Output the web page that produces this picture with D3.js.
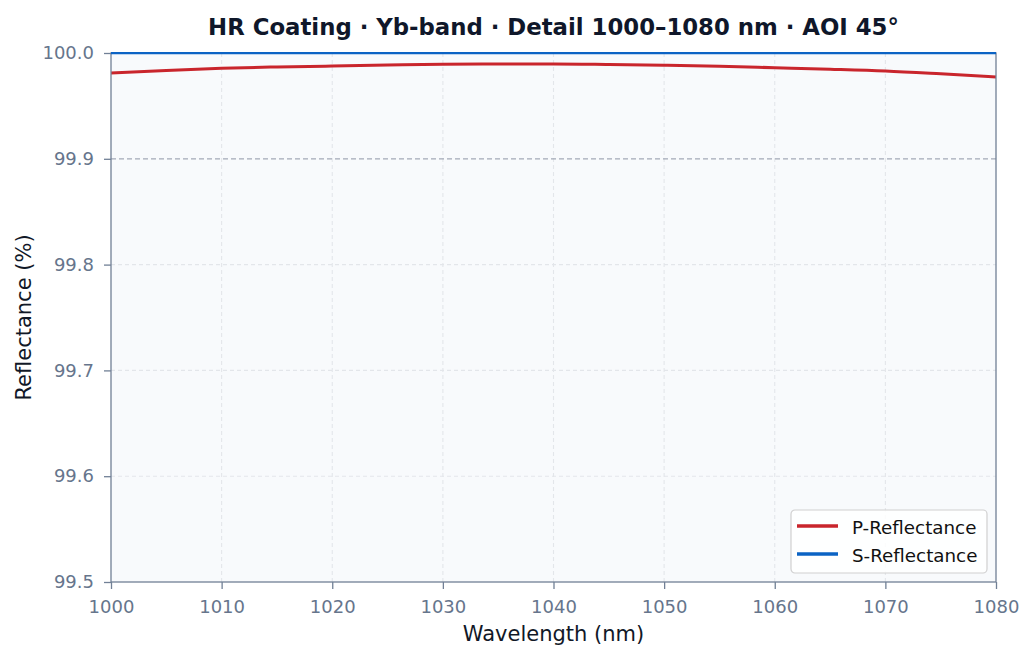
<!DOCTYPE html>
<html>
<head>
<meta charset="utf-8">
<script src="https://cdn.jsdelivr.net/npm/d3@7"></script>
<style>
 body { margin:0; background:#fff; }
 text { font-family: "DejaVu Sans", sans-serif; }
</style>
</head>
<body>
<div id="chart"></div>
<script>
// wavelengths (nm) and reflectance values
var wavelengths = [1000,1005,1010,1015,1020,1025,1030,1035,1040,1045,1050,1055,1060,1065,1070,1075,1080];
var pRefl = [99.981,99.9835,99.9855,99.9868,99.9877,99.9886,99.9893,99.9896,99.9896,99.9891,99.9884,99.9874,99.9861,99.9847,99.983,99.9803,99.9773];
var sRefl = [99.9999,99.9999,99.9999,99.9999,99.9999,99.9999,99.9999,99.9999,99.9999,99.9999,99.9999,99.9999,99.9999,99.9999,99.9999,99.9999,99.9999];
var xTicks = [1000,1010,1020,1030,1040,1050,1060,1070,1080];
var yTicks = [99.5,99.6,99.7,99.8,99.9,100.0];
var refLevel = 99.9;

var W = 1035, H = 659;
var m = {left:111, right:W-996, top:53, bottom:H-582};
var svg = d3.select("#chart").append("svg").attr("width",W).attr("height",H);

var x = d3.scaleLinear().domain([1000,1080]).range([m.left, W-m.right]);
var y = d3.scaleLinear().domain([99.5,100.0]).range([H-m.bottom, m.top]);

svg.append("rect")
  .attr("x",m.left).attr("y",m.top)
  .attr("width",x(1080)-x(1000)).attr("height",y(99.5)-y(100))
  .attr("fill","#f8fafc");

// grid
var g = svg.append("g");
xTicks.slice(1,-1).forEach(function(t){
  g.append("line").attr("x1",x(t)).attr("x2",x(t)).attr("y1",y(99.5)).attr("y2",y(100))
   .attr("stroke","#e3e6ea").attr("stroke-width",1.1).attr("stroke-dasharray","4,3");
});
yTicks.slice(1,-1).forEach(function(t){
  if (t === refLevel) return;
  g.append("line").attr("x1",x(1000)).attr("x2",x(1080)).attr("y1",y(t)).attr("y2",y(t))
   .attr("stroke","#e3e6ea").attr("stroke-width",1.1).attr("stroke-dasharray","4,3");
});
// reference 99.9 line
svg.append("line").attr("x1",x(1000)).attr("x2",x(1080)).attr("y1",y(refLevel)).attr("y2",y(refLevel))
  .attr("stroke","#a3a9b6").attr("stroke-width",1.3).attr("stroke-dasharray","5,3");

var line = d3.line().curve(d3.curveMonotoneX);
var pData = wavelengths.map(function(w,i){ return [x(w), y(pRefl[i])]; });
var sData = wavelengths.map(function(w,i){ return [x(w), y(sRefl[i])]; });

svg.append("path").attr("d",line(pData)).attr("fill","none")
  .attr("stroke","#c9252c").attr("stroke-width",3);

// spines
svg.append("rect")
  .attr("x",m.left).attr("y",m.top)
  .attr("width",x(1080)-x(1000)).attr("height",y(99.5)-y(100))
  .attr("fill","none").attr("stroke","#718096").attr("stroke-width",1.3);
// S line drawn over the top spine
svg.append("path").attr("d",line(sData)).attr("fill","none")
  .attr("stroke","#0b63c4").attr("stroke-width",2.2);

// axes
var xAxis = svg.append("g").attr("transform","translate(0,"+y(99.5)+")")
  .call(d3.axisBottom(x).tickValues(xTicks).tickFormat(d3.format("d")).tickSize(7).tickPadding(11));
var yAxis = svg.append("g").attr("transform","translate("+x(1000)+",0)")
  .call(d3.axisLeft(y).tickValues(yTicks).tickFormat(d3.format(".1f")).tickSize(7).tickPadding(10));
[xAxis,yAxis].forEach(function(a){
  a.select(".domain").remove();
  a.selectAll(".tick line").attr("stroke","#718096").attr("stroke-width",1.3);
  a.selectAll(".tick text").attr("fill","#66758c").style("font-size","18px")
    .style("font-family","DejaVu Sans, sans-serif");
});

// titles
svg.append("text").attr("x",(x(1000)+x(1080))/2).attr("y",34.5).attr("text-anchor","middle")
  .attr("fill","#0f172a").style("font-size","22.8px").style("font-weight","bold")
  .text("HR Coating · Yb-band · Detail 1000–1080 nm · AOI 45°");
svg.append("text").attr("x",(x(1000)+x(1080))/2).attr("y",641).attr("text-anchor","middle")
  .attr("fill","#111827").style("font-size","21px").text("Wavelength (nm)");
svg.append("text").attr("transform","translate(31,"+((y(99.5)+y(100))/2)+") rotate(-90)")
  .attr("text-anchor","middle").attr("fill","#111827").style("font-size","21px")
  .text("Reflectance (%)");

// legend
var lg = svg.append("g").attr("transform","translate(791,510)");
lg.append("rect").attr("width",196).attr("height",63).attr("rx",4)
  .attr("fill","#fff").attr("fill-opacity",0.85).attr("stroke","#d0d0d0").attr("stroke-width",1.2);
var items = [["P-Reflectance","#c9252c"],["S-Reflectance","#0b63c4"]];
items.forEach(function(it,i){
  var yy = 16 + i*28;
  lg.append("line").attr("x1",6).attr("x2",47).attr("y1",yy).attr("y2",yy)
    .attr("stroke",it[1]).attr("stroke-width",3.5);
  lg.append("text").attr("x",61).attr("y",yy+8).attr("fill","#111").style("font-size","18.3px").text(it[0]);
});
</script>
</body>
</html>
